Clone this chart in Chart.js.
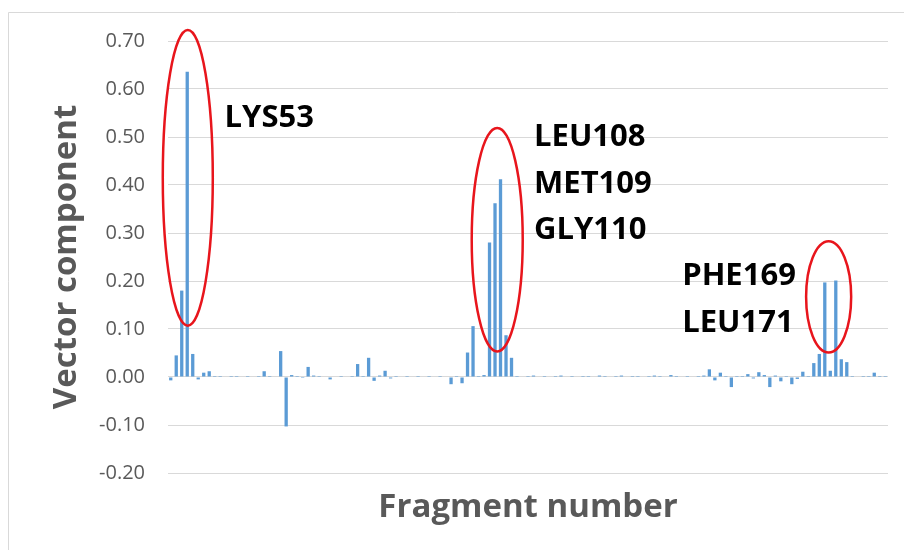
<!DOCTYPE html>
<html>
<head>
<meta charset="utf-8">
<script src="https://cdn.jsdelivr.net/npm/chart.js@4.4.1/dist/chart.umd.min.js"></script>
<style>
  html, body { margin: 0; padding: 0; background: #ffffff; }
  #wrap { width: 904px; height: 550px; position: relative; }
</style>
</head>
<body>
<div id="wrap"><canvas id="c" width="904" height="550"></canvas></div>
<script>
// Fragment numbers (residues 50..180)
const fragments = [
  '50','51','52','53','54','55','56','57','58','59',
  '60','61','62','63','64','65','66','67','68','69',
  '70','71','72','73','74','75','76','77','78','79',
  '80','81','82','83','84','85','86','87','88','89',
  '90','91','92','93','94','95','96','97','98','99',
  '100','101','102','103','104','105','106','107','108','109',
  '110','111','112','113','114','115','116','117','118','119',
  '120','121','122','123','124','125','126','127','128','129',
  '130','131','132','133','134','135','136','137','138','139',
  '140','141','142','143','144','145','146','147','148','149',
  '150','151','152','153','154','155','156','157','158','159',
  '160','161','162','163','164','165','166','167','168','169',
  '170','171','172','173','174','175','176','177','178','179',
  '180'
];

// Vector component per fragment
const vectorComponent = [
  -0.007, 0.045, 0.180, 0.636, 0.048, -0.005, 0.009, 0.012, 0.002, 0.002,
  0.001, 0.002, 0.002, 0.001, 0.002, 0.001, 0.002, 0.012, 0.002, 0.001,
  0.054, -0.103, 0.004, 0.002, -0.002, 0.021, 0.003, 0.002, 0.001, -0.005,
  0.001, 0.002, 0.001, 0.002, 0.027, 0.002, 0.040, -0.008, 0.003, 0.013,
  -0.003, 0.002, 0.001, 0.002, 0.001, 0.002, 0.001, 0.002, 0.001, 0.002,
  0.001, -0.015, 0.002, -0.013, 0.051, 0.106, 0.002, 0.004, 0.280, 0.362,
  0.412, 0.087, 0.040, 0.002, 0.001, 0.002, 0.003, 0.001, 0.002, 0.001,
  0.002, 0.003, 0.001, 0.002, 0.001, 0.002, 0.002, 0.001, 0.003, 0.002,
  0.001, 0.002, 0.003, 0.001, 0.002, 0.002, 0.001, 0.002, 0.003, 0.002,
  0.001, 0.004, 0.002, 0.001, 0.002, 0.001, 0.002, 0.003, 0.016, -0.007,
  0.009, 0.002, -0.021, 0.002, 0.002, 0.006, -0.003, 0.010, 0.004, -0.021,
  0.003, -0.009, 0.002, -0.015, -0.004, 0.011, 0.002, 0.029, 0.048, 0.197,
  0.013, 0.201, 0.037, 0.031, 0.002, 0.001, 0.002, 0.002, 0.009, 0.002,
  0.002
];

// Y axis tick values
const yTicks = [-0.20, -0.10, 0.00, 0.10, 0.20, 0.30, 0.40, 0.50, 0.60, 0.70];

// Annotation text (category index / value coordinates)
const annotLabels = ['LYS53', 'LEU108', 'MET109', 'GLY110', 'PHE169', 'LEU171'];
const annotLabelX = [9.8, 66.1, 66.1, 66.1, 93.05, 93.05];
const annotLabelY = [0.543, 0.505, 0.407, 0.310, 0.215, 0.117];

// Red ellipses: centre (category index, value), radii (categories, value)
const ellipseCX = [3.1, 59.4, 119.7];
const ellipseCY = [0.415, 0.286, 0.167];
const ellipseRX = [4.55, 4.64, 4.1];
const ellipseRY = [0.308, 0.233, 0.116];

const GRAY = '#595959';

const frame = {
  id: 'frame',
  beforeDraw(chart) {
    const ctx = chart.ctx;
    ctx.save();
    ctx.fillStyle = '#ffffff';
    ctx.fillRect(0, 0, chart.width, chart.height);
    ctx.strokeStyle = '#d9d9d9';
    ctx.lineWidth = 1;
    ctx.beginPath();
    ctx.moveTo(8.5, chart.height);
    ctx.lineTo(8.5, 12.5);
    ctx.lineTo(chart.width, 12.5);
    ctx.stroke();
    ctx.restore();
  }
};

const annot = {
  id: 'annot',
  afterDatasetsDraw(chart) {
    const ctx = chart.ctx;
    const x = chart.scales.x, y = chart.scales.y;
    const step = x.getPixelForValue(1) - x.getPixelForValue(0);
    ctx.save();
    ctx.strokeStyle = '#e8151c';
    ctx.lineWidth = 2.5;
    for (let i = 0; i < ellipseCX.length; i++) {
      const cx = x.getPixelForValue(ellipseCX[i]);
      const cy = y.getPixelForValue(ellipseCY[i]);
      const rx = ellipseRX[i] * step;
      const ry = Math.abs(y.getPixelForValue(ellipseCY[i] + ellipseRY[i]) - cy);
      ctx.beginPath();
      ctx.ellipse(cx, cy, rx, ry, 0, 0, Math.PI * 2);
      ctx.stroke();
    }
    const fs = 31;
    ctx.fillStyle = '#000000';
    ctx.font = 'bold ' + fs + 'px "Open Sans"';
    ctx.textAlign = 'left';
    ctx.textBaseline = 'alphabetic';
    for (let i = 0; i < annotLabels.length; i++) {
      const px = x.getPixelForValue(annotLabelX[i]);
      const py = y.getPixelForValue(annotLabelY[i]) + 0.357 * fs;
      ctx.fillText(annotLabels[i], px, py);
    }
    ctx.restore();
  }
};

new Chart(document.getElementById('c'), {
  type: 'bar',
  data: {
    labels: fragments,
    datasets: [{
      data: vectorComponent,
      backgroundColor: '#5b9bd5',
      borderWidth: 0,
      categoryPercentage: 1.0,
      barPercentage: 0.6
    }]
  },
  options: {
    responsive: false,
    animation: false,
    devicePixelRatio: 1,
    layout: { padding: { top: 41, right: 16, left: 0, bottom: 0 } },
    plugins: { legend: { display: false }, tooltip: { enabled: false } },
    scales: {
      x: {
        type: 'category',
        grid: { display: false },
        border: { display: false },
        ticks: { display: false },
        title: {
          display: true,
          text: 'Fragment number',
          color: GRAY,
          font: { family: '"Open Sans"', size: 33, weight: 'bold', lineHeight: 1.2 },
          padding: { top: 0, bottom: 23 }
        },
        afterFit(scale) { scale.height = 77; }
      },
      y: {
        min: -0.2,
        max: 0.7,
        afterBuildTicks(scale) { scale.ticks = yTicks.map(v => ({ value: v })); },
        grid: { color: '#d9d9d9', lineWidth: 1, drawTicks: false },
        border: { display: false },
        ticks: {
          color: GRAY,
          padding: 23,
          font: { family: '"Open Sans"', size: 20 },
          callback: (v) => Number(v).toFixed(2)
        },
        title: {
          display: true,
          text: 'Vector component',
          color: GRAY,
          font: { family: '"Open Sans"', size: 33, weight: 'bold', lineHeight: 1.2 },
          padding: { top: 47, bottom: 0 }
        },
        afterFit(scale) { scale.width = 168; }
      }
    }
  },
  plugins: [frame, annot]
});
</script>
</body>
</html>
